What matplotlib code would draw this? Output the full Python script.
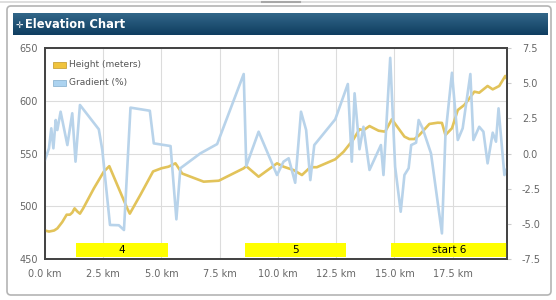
import numpy as np
import matplotlib
matplotlib.use("Agg")
import matplotlib.pyplot as plt
from matplotlib.patches import FancyBboxPatch, Rectangle

# elevation profile (km, meters)
height_km = [0.0, 0.17, 0.39, 0.53, 0.74, 0.93, 1.07, 1.17, 1.27, 1.39, 1.5, 1.64,
             2.1, 2.53, 2.76, 3.53, 3.64, 4.1, 4.64, 5.0, 5.3, 5.6, 5.89, 6.81, 7.46,
             8.53, 8.64, 9.17, 9.96, 10.24, 10.67, 11.03, 11.39, 11.67, 12.46, 12.82,
             13.24, 13.5, 13.67, 13.93, 14.32, 14.6, 14.89, 15.17, 15.43, 15.64, 15.86,
             16.07, 16.5, 16.86, 17.04, 17.19, 17.47, 17.72, 18.0, 18.22, 18.43, 18.64,
             19.0, 19.22, 19.5, 19.76, 19.85]
height_m = [477, 476, 477, 479, 485, 492, 492, 494, 498, 495, 493, 498,
            517, 533, 538, 498, 493, 511, 533, 536, 537.5, 540.7, 531, 523.3, 524.2,
            536, 538, 528, 540.7, 537.5, 534.3, 529.6, 537, 537, 544.5, 551.7,
            563.4, 573, 572, 576, 571.6, 570.7, 582.4, 573.9, 566, 563.7, 563.7,
            567.5, 578, 579.2, 579, 567.5, 573.9, 591.2, 596, 602.3, 608.6, 607.6,
            614, 610.8, 614, 623.5, 620]

# gradient (km, percent)
grad_km = [0.0, 0.17, 0.27, 0.36, 0.46, 0.53, 0.67, 0.96, 1.17, 1.31, 1.5, 2.31,
           2.46, 2.79, 3.17, 3.39, 3.67, 4.5, 4.67, 5.39, 5.64, 5.81, 6.67, 7.39,
           8.53, 8.64, 9.17, 9.96, 10.24, 10.46, 10.74, 10.99, 11.21, 11.39, 11.56,
           12.46, 13.0, 13.17, 13.29, 13.5, 13.67, 13.93, 14.42, 14.53, 14.82, 15.03,
           15.27, 15.43, 15.61, 15.72, 15.93, 16.04, 16.21, 16.57, 17.04, 17.19, 17.47,
           17.72, 17.93, 18.26, 18.39, 18.64, 18.82, 19.0, 19.22, 19.36, 19.47, 19.72,
           19.85]
grad_pct = [-0.46, 0.37, 1.79, 0.37, 2.38, 1.67, 2.97, 0.6, 2.86, -0.58, 3.45, 1.72,
            0.25, -5.08, -5.1, -5.44, 3.26, 3.04, 0.72, 0.53, -4.68, -1.05, 0.01, 0.67,
            5.65, -0.89, 1.55, -1.53, -0.58, -0.34, -2.08, 2.97, 1.67, -1.89, 0.6,
            2.43, 4.94, -0.58, 4.28, 0.3, 1.9, -1.17, 0.6, -1.53, 6.8, -0.94,
            -4.14, -1.53, -1.05, 0.6, 0.77, 2.38, 1.79, 0.01, -5.68, 1.31, 5.74,
            0.96, 1.79, 5.65, 0.96, 1.9, 1.55, -0.7, 1.48, 0.84, 3.21, -1.53,
            -1.0]

# stage markers
stage_labels = ["4", "5", "start 6"]
stage_start = [1.33, 8.6, 14.85]
stage_end = [5.27, 12.9, 19.85]

x_ticks = [0, 2.5, 5, 7.5, 10, 12.5, 15, 17.5]
h_ticks = [450, 500, 550, 600, 650]
g_ticks = [-7.5, -5.0, -2.5, 0.0, 2.5, 5.0, 7.5]

W, H = 556, 300
fig = plt.figure(figsize=(W / 100, H / 100), dpi=100)
fig.patch.set_facecolor("white")

# outer panel + title bar
bg = fig.add_axes([0, 0, 1, 1])
bg.set_xlim(0, W)
bg.set_ylim(H, 0)
bg.axis("off")
bg.plot([0, W], [2, 2], color="#d8d8d8", lw=1.2)
bg.plot([262, 300], [2, 2], color="#a8a8a8", lw=1.5)
bg.add_patch(FancyBboxPatch((7, 6), 544, 289, boxstyle="round,pad=0,rounding_size=4",
                            fc="white", ec="#b4b4b4", lw=1.2))
grad = np.linspace(0, 1, 50).reshape(-1, 1)
cmap = matplotlib.colors.LinearSegmentedColormap.from_list("bar", ["#326789", "#0f3d60"])
bg.imshow(grad, cmap=cmap, extent=(13, 548, 35.5, 14), aspect="auto", zorder=2)
bg.text(16, 25, "\u271b", color="white", fontsize=6.5, va="center", ha="left", zorder=3)
bg.text(25, 25, "Elevation Chart", color="white", fontsize=8.3, fontweight="bold",
        va="center", ha="left", zorder=3)

ax = fig.add_axes([45 / W, 1 - 259 / H, (506.7 - 45) / W, (259 - 48) / H])
ax.set_xlim(0, 19.82)
ax.set_ylim(450, 650)
ax.set_xticks(x_ticks)
ax.set_xticklabels([f"{v:.1f} km" for v in x_ticks])
ax.set_yticks(h_ticks)
ax.grid(True, color="#dcdcdc", lw=0.8)
ax.set_axisbelow(True)
for s in ax.spines.values():
    s.set_color("#444444")
    s.set_linewidth(1.3)
ax.tick_params(axis="both", length=0, labelsize=7, labelcolor="#666666")
ax.tick_params(axis="x", pad=7)
ax.tick_params(axis="y", pad=5)

ax.plot(height_km, height_m, color="#e2c35a", lw=1.9, zorder=3, solid_joinstyle="round")

for lab, x0, x1 in zip(stage_labels, stage_start, stage_end):
    ax.add_patch(Rectangle((x0, 452.2), x1 - x0, 13.2, fc="#ffff00", ec="none", zorder=4))
    ax.text((x0 + x1) / 2, 458.8, lab, ha="center", va="center", fontsize=7.5,
            color="black", zorder=5)

ax2 = ax.twinx()
ax2.set_ylim(-7.5, 7.5)
ax2.set_yticks(g_ticks)
ax2.set_yticklabels([f"{v:.1f}" for v in g_ticks])
ax2.tick_params(axis="y", length=3, color="#cccccc", labelsize=7, labelcolor="#666666", pad=8)
for s in ax2.spines.values():
    s.set_color("#444444")
    s.set_linewidth(1.3)
ax2.plot(grad_km, grad_pct, color="#b8d3ea", lw=1.9, zorder=2, solid_joinstyle="round")

# legend
ax2.add_patch(Rectangle((0.018, 0.905), 0.028, 0.03, transform=ax.transAxes,
                        fc="#f0c33c", ec="#c9a23a", lw=0.6, zorder=6))
ax2.add_patch(Rectangle((0.018, 0.82), 0.028, 0.03, transform=ax.transAxes,
                        fc="#acd3f0", ec="#8fb6d3", lw=0.6, zorder=6))
ax2.text(0.052, 0.92, "Height (meters)", transform=ax.transAxes, fontsize=6.5,
         color="#555555", va="center", zorder=6)
ax2.text(0.052, 0.835, "Gradient (%)", transform=ax.transAxes, fontsize=6.5,
         color="#555555", va="center", zorder=6)

fig.savefig("out.png", dpi=100)
